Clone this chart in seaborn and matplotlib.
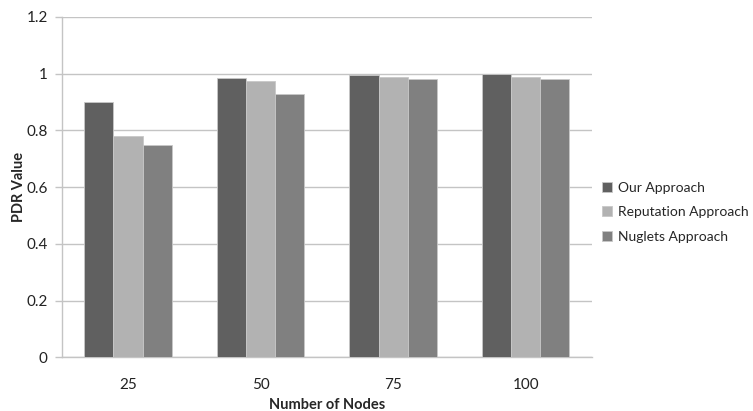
import matplotlib
matplotlib.use("Agg")
import matplotlib.pyplot as plt
import seaborn as sns
import pandas as pd

# PDR measured for each network size and approach
nodes = ["25", "50", "75", "100"]
series_names = ["Our Approach", "Reputation Approach", "Nuglets Approach"]
our_approach = [0.90, 0.984, 0.997, 1.0]
reputation_approach = [0.78, 0.975, 0.99, 0.99]
nuglets_approach = [0.75, 0.93, 0.98, 0.98]
y_ticks = [0, 0.2, 0.4, 0.6, 0.8, 1.0, 1.2]
y_tick_labels = ["0", "0.2", "0.4", "0.6", "0.8", "1", "1.2"]

palette = {"Our Approach": "#606060",
           "Reputation Approach": "#b2b2b2",
           "Nuglets Approach": "#808080"}

rows = []
for name, vals in zip(series_names, [our_approach, reputation_approach, nuglets_approach]):
    for n, v in zip(nodes, vals):
        rows.append({"Nodes": n, "Approach": name, "PDR": v})
df = pd.DataFrame(rows)

sns.set_style("white")
plt.rcParams["font.family"] = ["Lato", "DejaVu Sans"]

fig = plt.figure(figsize=(7.53, 4.11), dpi=100)
ax = fig.add_axes([61.7 / 753, 1 - 357.3 / 411, (592 - 61.7) / 753, (357.3 - 17) / 411])

sns.barplot(data=df, x="Nodes", y="PDR", hue="Approach", order=nodes,
            hue_order=series_names, palette=palette, width=0.66, gap=0,
            edgecolor="#c8c8c8", linewidth=0.6, saturation=1, errorbar=None,
            ax=ax, zorder=3)

ax.set_ylim(0, 1.2)
ax.set_xlim(-0.5, 3.5)
ax.set_yticks(y_ticks)
ax.set_yticklabels(y_tick_labels)
ax.yaxis.grid(True, color="#c4c4c4", linewidth=1.0, zorder=0)
ax.set_axisbelow(True)

for side in ["top", "right"]:
    ax.spines[side].set_visible(False)
ax.spines["left"].set_color("#c4c4c4")
ax.spines["bottom"].set_color("#c4c4c4")
ax.spines["left"].set_linewidth(1.0)
ax.spines["bottom"].set_linewidth(1.0)

ax.tick_params(axis="y", left=True, length=5, width=1.0, color="#c4c4c4",
               labelsize=11, labelcolor="#222222", pad=5)
ax.tick_params(axis="x", bottom=False, labelsize=11, labelcolor="#222222", pad=11.5)

ax.set_xlabel("Number of Nodes", fontsize=10.5, fontweight="bold", labelpad=4)
ax.set_ylabel("PDR Value", fontsize=10.5, fontweight="bold", labelpad=0)

handles, labels = ax.get_legend_handles_labels()
ax.legend(handles, labels, loc="center left", bbox_to_anchor=(602 / 753, 1 - 212 / 411),
          bbox_transform=fig.transFigure, frameon=False, fontsize=10,
          handlelength=0.7, handleheight=0.7, handletextpad=0.45,
          labelspacing=0.9, borderaxespad=0, borderpad=0)

fig.savefig("out.png", dpi=100)
